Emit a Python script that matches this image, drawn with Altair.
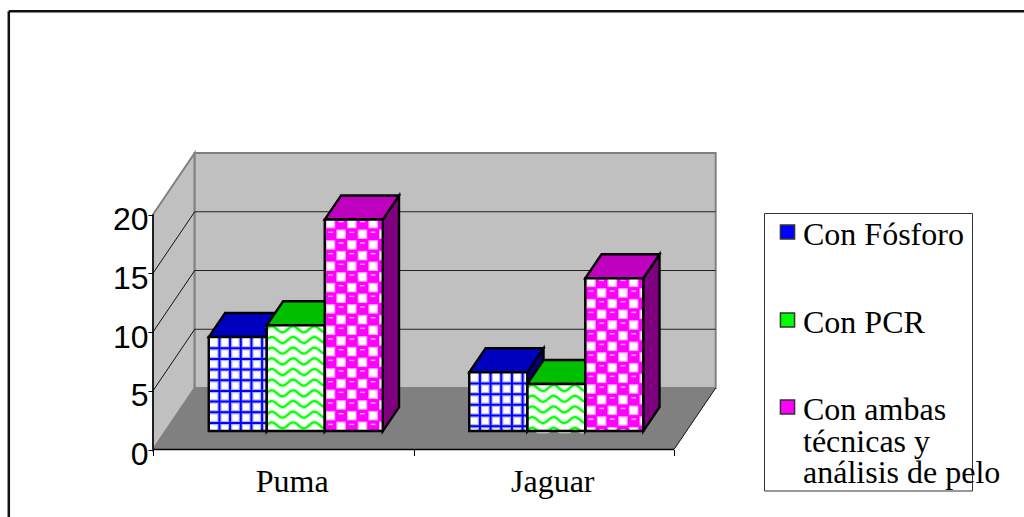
import math
import altair as alt
import pandas as pd

# Values shown by the chart
CATEGORIES = ["Puma", "Jaguar"]
SERIES = ["Con Fósforo", "Con PCR", "Con ambas técnicas y análisis de pelo"]
SERIES_LINES = [["Con Fósforo"], ["Con PCR"], ["Con ambas", "técnicas y", "análisis de pelo"]]
VALUES = {
    "Puma": [8, 9, 18],
    "Jaguar": [5, 4, 13],
}
Y_TICKS = [0, 5, 10, 15, 20]

# Colours per series: front, top face, side face
FRONT = ["#0000FF", "#00FF00", "#FF00FF"]
TOP = ["#0000BF", "#00BF00", "#BF00BF"]
SIDE = ["#00007F", "#007F00", "#7F007F"]

# Canvas and scale calibration
W, H = 1024, 517
LEFT, BASE = 153.0, 449.5
PX_SLOT, PX_VALUE = 260.5, 11.75

# Oblique projection: how far one full depth unit moves a point, in data units
DEPTH_X, DEPTH_Y = 0.16, 5.234
BAR_W = 58.0 / PX_SLOT
D_FRONT, D_BACK = 0.30, 0.69
TILE = 10.67  # pattern period, px

x_scale = alt.Scale(domain=[-LEFT / PX_SLOT, (W - LEFT) / PX_SLOT], nice=False, zero=False)
y_scale = alt.Scale(domain=[-(H - BASE) / PX_VALUE, BASE / PX_VALUE], nice=False, zero=False)

# Every layer shares the same axis definitions, so they merge into one pair
x_axis = alt.Axis(
    values=[0, 1, 2],
    title=None,
    labels=False,
    domain=False,
    grid=False,
    tickSize=6,
    tickColor="black",
    offset=-(H - BASE),
    zindex=1,
)
y_axis = alt.Axis(
    values=Y_TICKS,
    title=None,
    domain=False,
    grid=False,
    tickSize=5,
    tickColor="black",
    labelFont="Liberation Sans",
    labelFontSize=32,
    labelColor="black",
    labelPadding=0,
    labelOffset=5,
    offset=-LEFT,
    zindex=1,
)


def ux(px):
    return px / PX_SLOT


def uy(px):
    return px / PX_VALUE


def X(field="x"):
    return alt.X(f"{field}:Q", scale=x_scale, axis=x_axis)


def Y(field="y"):
    return alt.Y(f"{field}:Q", scale=y_scale, axis=y_axis)


def X2(field="x2"):
    return alt.X2(f"{field}:Q")


def Y2(field="y2"):
    return alt.Y2(f"{field}:Q")


layers = []
axis_row = pd.DataFrame([{"x": 0.0, "x2": 2.0, "y": 0.0, "y2": 20.0}])

# Floor
floor = pd.DataFrame([{"y": d * DEPTH_Y, "x": d * DEPTH_X, "x2": 2 + d * DEPTH_X} for d in (0, 1)])
layers.append(alt.Chart(floor).mark_area(orient="horizontal", color="#808080").encode(x=X(), x2=X2(), y=Y()))

# Left wall
wall = pd.DataFrame([{"x": d * DEPTH_X, "y": d * DEPTH_Y, "y2": 20 + d * DEPTH_Y} for d in (0, 1)])
layers.append(
    alt.Chart(wall)
    .mark_area(orient="vertical", color="#C0C0C0", stroke="#808080", strokeWidth=2)
    .encode(x=X(), y=Y(), y2=Y2())
)

# Back wall
back = pd.DataFrame([{"x": DEPTH_X, "x2": 2 + DEPTH_X, "y": DEPTH_Y, "y2": 20 + DEPTH_Y}])
layers.append(
    alt.Chart(back)
    .mark_rect(color="#C0C0C0", stroke="#808080", strokeWidth=2)
    .encode(x=X(), x2=X2(), y=Y(), y2=Y2())
)

# Gridlines on the back wall and their diagonals on the left wall
grid = pd.DataFrame([{"x": DEPTH_X, "x2": 2 + DEPTH_X, "y": v + DEPTH_Y} for v in Y_TICKS[1:-1]])
layers.append(alt.Chart(grid).mark_rule(color="#222222", strokeWidth=1).encode(x=X(), x2=X2(), y=Y()))
diag = pd.DataFrame(
    [{"x": d * DEPTH_X, "y": v + d * DEPTH_Y, "row": v} for v in Y_TICKS[1:-1] for d in (0, 1)]
)
layers.append(alt.Chart(diag).mark_line(color="#111111", strokeWidth=1).encode(x=X(), y=Y(), detail="row:N"))

# Edge of the floor on the right
edge = pd.DataFrame([{"x": 2 + d * DEPTH_X, "y": d * DEPTH_Y} for d in (0, 1)])
layers.append(alt.Chart(edge).mark_line(color="#111111", strokeWidth=1).encode(x=X(), y=Y()))

# Bar geometry
bars = []
for c, cat in enumerate(CATEGORIES):
    for s, ser in enumerate(SERIES):
        x0 = c + 0.5 - 1.5 * BAR_W + s * BAR_W
        bars.append({"cat": cat, "serie": ser, "s": s, "value": VALUES[cat][s], "x0": x0, "x1": x0 + BAR_W})

# Sides and tops, painted bar by bar so each one overlaps its left neighbour
for b in bars:
    side = pd.DataFrame(
        [{"x": b["x1"] + d * DEPTH_X, "y": d * DEPTH_Y, "y2": b["value"] + d * DEPTH_Y} for d in (D_FRONT, D_BACK)]
    )
    top = pd.DataFrame(
        [
            {"y": b["value"] + d * DEPTH_Y, "x": b["x0"] + d * DEPTH_X, "x2": b["x1"] + d * DEPTH_X}
            for d in (D_FRONT, D_BACK)
        ]
    )
    layers.append(
        alt.Chart(side)
        .mark_area(orient="vertical", color=SIDE[b["s"]], stroke="black", strokeWidth=2.4, strokeJoin="miter")
        .encode(x=X(), y=Y(), y2=Y2())
    )
    layers.append(
        alt.Chart(top)
        .mark_area(orient="horizontal", color=TOP[b["s"]], stroke="black", strokeWidth=2.4, strokeJoin="miter")
        .encode(x=X(), x2=X2(), y=Y())
    )

# Front faces
fronts = pd.DataFrame(
    [
        {
            "serie": b["serie"],
            "x": b["x0"] + D_FRONT * DEPTH_X,
            "x2": b["x1"] + D_FRONT * DEPTH_X,
            "y": D_FRONT * DEPTH_Y,
            "y2": b["value"] + D_FRONT * DEPTH_Y,
            "s": b["s"],
        }
        for b in bars
    ]
)
layers.append(
    alt.Chart(fronts)
    .mark_rect()
    .encode(
        x=X(),
        x2=X2(),
        y=Y(),
        y2=Y2(),
        color=alt.Color("serie:N", sort=SERIES, scale=alt.Scale(domain=SERIES, range=FRONT), legend=None),
    )
)
layers.append(
    alt.Chart(fronts[fronts.s != 2])
    .mark_rect(color="white")
    .encode(x=X(), x2=X2(), y=Y(), y2=Y2())
)

# Surface textures, clipped by construction to their face
plaid, waves, halos, cells, glints = [], [], [], [], []
row_id = 0


def clipped_cell(f, cx, cy, half, fw, fh):
    left, right = max(cx - half, 0), min(cx + half, fw)
    upper, lower = max(cy - half, 0), min(cy + half, fh)
    if left < right and upper < lower:
        return {
            "x": f["x"] + ux(left),
            "x2": f["x"] + ux(right),
            "y": f["y2"] - uy(upper),
            "y2": f["y2"] - uy(lower),
        }
    return None


for f in fronts.to_dict("records"):
    fw = (f["x2"] - f["x"]) * PX_SLOT
    fh = (f["y2"] - f["y"]) * PX_VALUE
    if f["s"] == 0:
        k = 1
        while f["x"] + ux(k * TILE) < f["x2"] - ux(1):
            xk = f["x"] + ux(k * TILE)
            plaid.append({"x": xk, "x2": xk, "y": f["y"], "y2": f["y2"]})
            k += 1
        k = 1
        while f["y2"] - uy(k * TILE + 0.5) > f["y"] + uy(1):
            yk = f["y2"] - uy(k * TILE + 0.5)
            plaid.append({"x": f["x"], "x2": f["x2"], "y": yk, "y2": yk})
            k += 1
    elif f["s"] == 1:
        k = 0
        while f["y2"] - uy(4 + k * TILE) > f["y"]:
            mid = f["y2"] - uy(4 + k * TILE)
            for i in range(int(fw / 1.5) + 1):
                px = i * 1.5
                yy = mid + uy(3.0) * math.cos(2 * math.pi * (px - 5) / (2 * TILE))
                yy = min(max(yy, f["y"]), f["y2"])
                waves.append({"x": f["x"] + ux(px), "y": yy, "row": row_id})
            row_id += 1
            k += 1
    else:
        for j in range(int(fh / TILE) + 1):
            for i in range(-1, int(fw / TILE) + 1):
                cx = 5.7 + i * TILE
                cy = 4 + j * TILE
                if (i + j) % 2 == 0:
                    for store, half in ((halos, 4.8), (cells, 3.6)):
                        cell = clipped_cell(f, cx, cy, half, fw, fh)
                        if cell:
                            store.append(cell)
                else:
                    left, right = max(cx - 2.4, 0), min(cx + 2.4, fw)
                    upper, lower = cy - 2.6, cy - 1.2
                    if left < right and lower < fh and upper > 0:
                        glints.append(
                            {
                                "x": f["x"] + ux(left),
                                "x2": f["x"] + ux(right),
                                "y": f["y2"] - uy(upper),
                                "y2": f["y2"] - uy(lower),
                            }
                        )

plaid_df = pd.DataFrame(plaid)
layers.append(
    alt.Chart(plaid_df).mark_rule(color="#B4B4FF", strokeWidth=4.5).encode(x=X(), x2=X2(), y=Y(), y2=Y2())
)
layers.append(
    alt.Chart(plaid_df).mark_rule(color="#0000FF", strokeWidth=2).encode(x=X(), x2=X2(), y=Y(), y2=Y2())
)
waves_df = pd.DataFrame(waves)
layers.append(
    alt.Chart(waves_df)
    .mark_line(color="#CCFFCC", strokeWidth=4.5, strokeCap="butt")
    .encode(x=X(), y=Y(), detail="row:N")
)
layers.append(
    alt.Chart(waves_df)
    .mark_line(color="#00FF00", strokeWidth=2, strokeCap="butt")
    .encode(x=X(), y=Y(), detail="row:N")
)
layers.append(alt.Chart(pd.DataFrame(halos)).mark_rect(color="#FFA0FF").encode(x=X(), x2=X2(), y=Y(), y2=Y2()))
layers.append(alt.Chart(pd.DataFrame(cells)).mark_rect(color="white").encode(x=X(), x2=X2(), y=Y(), y2=Y2()))
layers.append(alt.Chart(pd.DataFrame(glints)).mark_rect(color="#FFC0FF").encode(x=X(), x2=X2(), y=Y(), y2=Y2()))

# Outline of every front face, on top of its texture
layers.append(
    alt.Chart(fronts)
    .mark_rect(fillOpacity=0, stroke="black", strokeWidth=2.4)
    .encode(x=X(), x2=X2(), y=Y(), y2=Y2())
)

# Value axis line and category axis line
layers.append(alt.Chart(axis_row).mark_rule(color="black", strokeWidth=1.5).encode(x=X(), y=Y(), y2=Y2()))
layers.append(alt.Chart(axis_row).mark_rule(color="black", strokeWidth=1.5).encode(x=X(), x2=X2(), y=Y()))

# Category names
cat_df = pd.DataFrame({"cat": CATEGORIES, "x": [i + 0.5 for i in range(len(CATEGORIES))]})
layers.append(
    alt.Chart(cat_df)
    .mark_text(font="Liberation Serif", fontSize=32, color="black", baseline="alphabetic", dx=9)
    .encode(x=X(), y=alt.value(492), text="cat:N")
)

# Legend: box, swatches and wrapped labels
one_row = pd.DataFrame({"k": [0]})
layers.append(
    alt.Chart(one_row)
    .mark_rect(fillOpacity=0, stroke="#333333", strokeWidth=1)
    .encode(x=alt.value(764.5), x2=alt.value(972.5), y=alt.value(213.5), y2=alt.value(491))
)
SWATCH_Y = [232, 320, 407]
LABEL_Y = [245, 333, 420]
for s, ser in enumerate(SERIES):
    layers.append(
        alt.Chart(pd.DataFrame({"serie": [ser]}))
        .mark_square(size=200, opacity=1, fill=FRONT[s], stroke="#333333", strokeWidth=1.5)
        .encode(x=alt.value(787.5), y=alt.value(SWATCH_Y[s]))
    )
    layers.append(
        alt.Chart(pd.DataFrame({"label": ["\n".join(SERIES_LINES[s])]}))
        .mark_text(
            font="Liberation Serif",
            fontSize=32,
            color="black",
            align="left",
            baseline="alphabetic",
            lineBreak="\n",
            lineHeight=31.5,
        )
        .encode(x=alt.value(803), y=alt.value(LABEL_Y[s]), text="label:N")
    )

# Outer frame, open to the right and at the bottom
layers.append(
    alt.Chart(one_row)
    .mark_rule(color="#111111", strokeWidth=2.5)
    .encode(x=alt.value(8.8), y=alt.value(11.2), y2=alt.value(H))
)
layers.append(
    alt.Chart(one_row)
    .mark_rule(color="#111111", strokeWidth=2.5)
    .encode(x=alt.value(8.8), x2=alt.value(W), y=alt.value(11.2))
)

chart = (
    alt.layer(*layers)
    .properties(
        width=W,
        height=H,
        padding=0,
        background="white",
        autosize=alt.AutoSizeParams(type="none"),
    )
    .configure_view(stroke=None)
)

chart.save("out.html", embed_options={"renderer": "svg", "actions": False})
